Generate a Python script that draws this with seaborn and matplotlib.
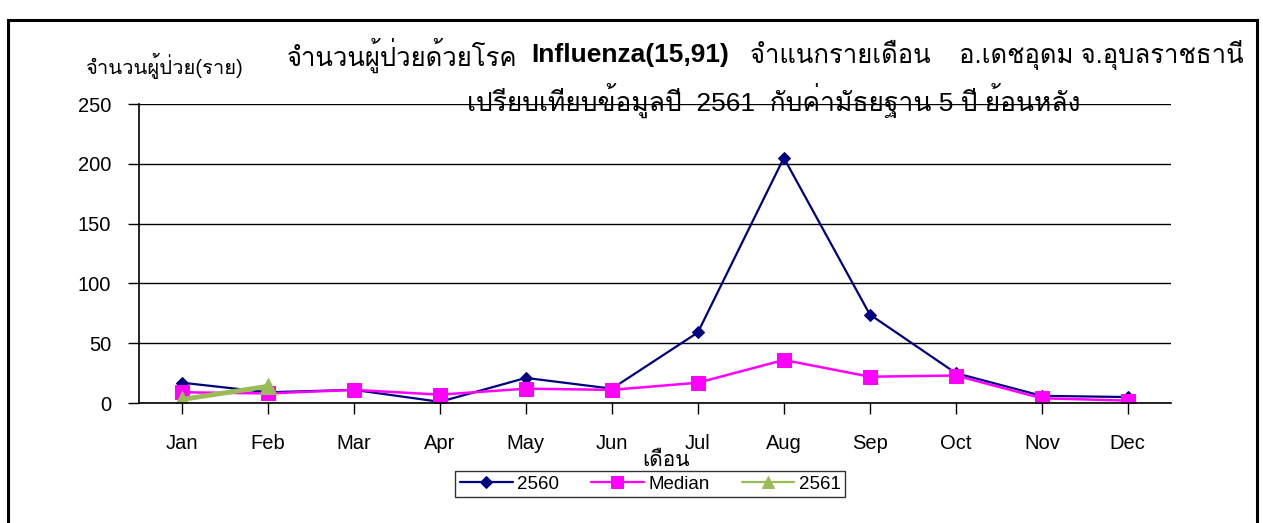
import matplotlib
matplotlib.use('Agg')
import matplotlib.pyplot as plt
import seaborn as sns
from matplotlib import font_manager, ft2font
from matplotlib.patches import Rectangle

months = ['Jan', 'Feb', 'Mar', 'Apr', 'May', 'Jun', 'Jul', 'Aug', 'Sep', 'Oct', 'Nov', 'Dec']
cases_2560 = [17, 9, 11, 1, 21, 12, 59, 205, 74, 25, 6, 5]
cases_median = [9, 8, 11, 7, 12, 11, 17, 36, 22, 23, 4, 2]
cases_2561 = [3, 14]
y_ticks = [0, 50, 100, 150, 200, 250]


def thai_family():
    """find installed fonts that have Thai glyphs"""
    found = []
    for f in font_manager.fontManager.ttflist:
        try:
            if 0x0E08 in ft2font.FT2Font(f.fname).get_charmap():
                found.append(f.name)
        except Exception:
            pass
    return found


sns.set_theme(style='white')
thai = thai_family()
#latin text in Arial look-alike, thai glyphs fall back to the thai font
fams = ['Liberation Sans'] + thai[:1] + ['DejaVu Sans']
plt.rcParams['font.family'] = fams
plt.rcParams['text.color'] = 'black'
plt.rcParams['xtick.color'] = 'black'
plt.rcParams['ytick.color'] = 'black'

fig = plt.figure(figsize=(12.63, 5.23), dpi=100)
ax = fig.add_axes([0.110, 0.2294, 0.817, 0.5717])

sns.lineplot(x=months, y=cases_2560, ax=ax, color='#000080', lw=1.6,
             marker='D', ms=6, mec='#000080', label='2560')
sns.lineplot(x=months, y=cases_median, ax=ax, color='#FF00FF', lw=1.8,
             marker='s', ms=10, mec='#FF00FF', label='Median')
sns.lineplot(x=months[:len(cases_2561)], y=cases_2561, ax=ax, color='#9BBB59', lw=3.5,
             marker='^', ms=12, mec='#9BBB59', label='2561')

ax.set_xlim(-0.5, 11.5)
ax.set_ylim(0, 250)
ax.set_yticks(y_ticks)
ax.yaxis.grid(True, color='black', lw=1)
ax.set_axisbelow(True)
for s in ['top', 'right']:
    ax.spines[s].set_visible(False)
for s in ['left', 'bottom']:
    ax.spines[s].set_color('black')
    ax.spines[s].set_linewidth(1.2)
ax.tick_params(axis='both', which='major', labelsize=14.5, length=8, width=1,
               color='black', labelcolor='black', direction='out', left=True, bottom=True, pad=14)
ax.tick_params(axis='y', pad=12)
ax.set_xlabel('')
ax.set_ylabel('')

# legend at the bottom
leg = ax.legend(loc='center', bbox_to_anchor=(0.515, 0.0746), bbox_transform=fig.transFigure,
                ncol=3, frameon=True, fontsize=13.5, handlelength=2.8, columnspacing=1.7,
                handletextpad=0.25, borderpad=0.25, fancybox=False)
leg.get_frame().set_edgecolor('black')
leg.get_frame().set_linewidth(1)
for h, ms in zip(leg.legend_handles, [6, 9, 9]):
    h.set_linewidth(1.6)
    h.set_markersize(ms)

# titles and axis labels
fig.text(287 / 1263, 0.895, 'จำนวนผู้ป่วยด้วยโรค', fontsize=18.5, ha='left', va='center')
fig.text(531 / 1263, 0.895, 'Influenza(15,91)', fontsize=19, fontweight='bold', ha='left', va='center')
fig.text(750 / 1263, 0.895, 'จำแนกรายเดือน    อ.เดชอุดม จ.อุบลราชธานี', fontsize=18.5,
         ha='left', va='center')
fig.text(467 / 1263, 0.809, 'เปรียบเทียบข้อมูลปี  2561  กับค่ามัธยฐาน 5 ปี ย้อนหลัง', fontsize=19,
         ha='left', va='center')
fig.text(85 / 1263, 0.873, 'จำนวนผู้ป่วย(ราย)', fontsize=14.5, ha='left', va='center')
fig.text(666 / 1263, 0.120, 'เดือน', fontsize=15, ha='center', va='center')

# border around the whole chart
fig.patches.append(Rectangle((0.0065, -0.1), 0.989, 1.062, transform=fig.transFigure,
                             fill=False, edgecolor='black', lw=2.2, clip_on=False))

fig.savefig('out.png', dpi=100)
